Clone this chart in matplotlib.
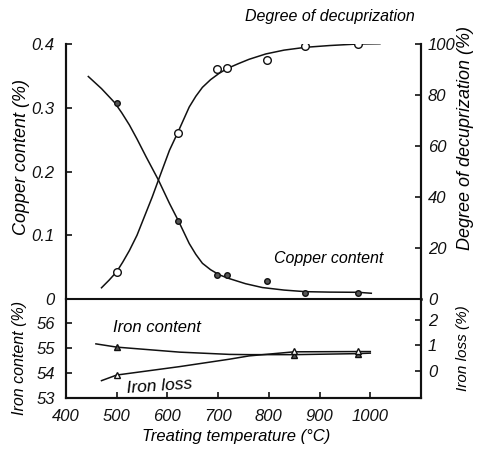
import matplotlib
matplotlib.use("Agg")
import matplotlib.pyplot as plt

plt.rcParams["font.family"] = ["Liberation Sans", "DejaVu Sans"]
plt.rcParams["font.style"] = "italic"

# measured points
temp_pts = [500, 620, 697, 718, 797, 872, 975]
copper_pts = [0.308, 0.122, 0.0376, 0.037, 0.028, 0.009, 0.009]
decup_pts = [10.7, 65.1, 90.0, 90.4, 93.7, 99.2, 100]

# hand-drawn curves
copper_curve_t = [444, 470, 496, 510, 525, 540, 558, 570, 582, 604, 622, 643, 656, 669, 685, 702, 722,
                  754, 787, 830, 872, 920, 976, 1002]
copper_curve_v = [0.349, 0.33, 0.308, 0.292, 0.273, 0.251, 0.223, 0.205, 0.187, 0.150, 0.122, 0.087,
                  0.070, 0.056, 0.046, 0.038, 0.032, 0.024, 0.018, 0.014, 0.0115, 0.0108, 0.0105, 0.009]
decup_curve_t = [470, 485, 500, 512, 525, 540, 558, 570, 582, 604, 620, 643, 656, 669, 685, 702, 718,
                 740, 761, 794, 830, 872, 920, 975, 1019]
decup_curve_v = [4.4, 7.4, 10.7, 14.5, 19.0, 25.0, 34.0, 40.0, 46.5, 58.3, 65.1, 75.3, 79.5, 83.0,
                 86.0, 88.5, 90.4, 92.3, 94.0, 96.1, 97.6, 98.7, 99.4, 100, 100.1]

iron_t = [500, 850, 975]
iron_content_pts = [55.03, 54.72, 54.75]
iron_loss_pts = [-0.16, 0.78, 0.77]
iron_content_curve_t = [459, 500, 624, 722, 761, 850, 975, 1000]
iron_content_curve_v = [55.16, 55.03, 54.83, 54.74, 54.73, 54.73, 54.77, 54.79]
iron_loss_curve_t = [470, 500, 624, 722, 761, 850, 975, 1000]
iron_loss_curve_v = [-0.38, -0.16, 0.17, 0.46, 0.59, 0.75, 0.76, 0.76]

W, H = 478, 455
fig = plt.figure(figsize=(W / 100, H / 100), dpi=100)

left, width = 66 / W, (421 - 66) / W
ax1 = fig.add_axes([left, 1 - 299 / H, width, (299 - 44) / H])
ax2 = fig.add_axes([left, 1 - 398 / H, width, (398 - 299) / H])
ax1r = ax1.twinx()
ax2r = ax2.twinx()

lw = 1.1
ink = "#111111"

# top panel
ax1.plot(copper_curve_t, copper_curve_v, color=ink, lw=lw, solid_joinstyle="round")
ax1.plot(temp_pts, copper_pts, "o", ms=4, color="#555555", mec=ink)
ax1r.plot(decup_curve_t, decup_curve_v, color=ink, lw=lw, solid_joinstyle="round")
ax1r.plot(temp_pts, decup_pts, "o", ms=5.5, mfc="white", mec=ink, mew=1)

# bottom panel
ax2.plot(iron_content_curve_t, iron_content_curve_v, color=ink, lw=lw)
ax2.plot(iron_t, iron_content_pts, "^", ms=5, color="#555555", mec=ink)
ax2r.plot(iron_loss_curve_t, iron_loss_curve_v, color=ink, lw=lw)
ax2r.plot(iron_t, iron_loss_pts, "^", ms=5, mfc="white", mec=ink)

for a in (ax1, ax2):
    a.set_xlim(400, 1100)
ax1.set_ylim(0, 0.4)
ax1r.set_ylim(0, 100)
ax2.set_ylim(53, 56.95)
ax2r.set_ylim(-1.06, 2.82)

for a in (ax1, ax1r, ax2, ax2r):
    a.spines["top"].set_visible(False)
    for s in a.spines.values():
        s.set_linewidth(1.5)
        s.set_color(ink)
    a.tick_params(direction="in", length=4, width=1.2, labelsize=12, colors=ink)

ax1.spines["bottom"].set_linewidth(1.8)
ax1.tick_params(bottom=False, labelbottom=False)

ax1.set_yticks([0, 0.1, 0.2, 0.3, 0.4])
ax1.set_yticklabels(["0", "0.1", "0.2", "0.3", "0.4"])
ax1r.set_yticks([0, 20, 40, 60, 80, 100])
ax2.set_yticks([53, 54, 55, 56])
ax2r.set_yticks([0, 1, 2])
ax2.set_xticks([400, 500, 600, 700, 800, 900, 1000])
ax2.tick_params(axis="x", pad=8)
ax1.tick_params(axis="y", pad=8)
ax2.tick_params(axis="y", pad=8)
ax1r.tick_params(axis="y", pad=5)
ax2r.tick_params(axis="y", pad=5)

# labels
fig.text(236 / W, 1 - 437 / H, "Treating temperature (°C)", ha="center", va="center", fontsize=12)
fig.text(22 / W, 1 - 157 / H, "Copper content (%)", rotation=90, ha="center", va="center", fontsize=13)
fig.text(20 / W, 1 - 358 / H, "Iron content (%)", rotation=90, ha="center", va="center", fontsize=11.5)
fig.text(465 / W, 1 - 138 / H, "Degree of decuprization (%)", rotation=90, ha="center", va="center", fontsize=13)
fig.text(463 / W, 1 - 348 / H, "Iron loss (%)", rotation=90, ha="center", va="center", fontsize=11)
fig.text(330 / W, 1 - 16 / H, "Degree of decuprization", ha="center", va="center", fontsize=11.5)
fig.text(329 / W, 1 - 258 / H, "Copper content", ha="center", va="center", fontsize=11.5)
fig.text(157 / W, 1 - 328 / H, "Iron content", ha="center", va="center", fontsize=12)
fig.text(159 / W, 1 - 386 / H, "Iron loss", ha="center", va="center", fontsize=12.5, rotation=4)

fig.savefig("out.png", dpi=100)
